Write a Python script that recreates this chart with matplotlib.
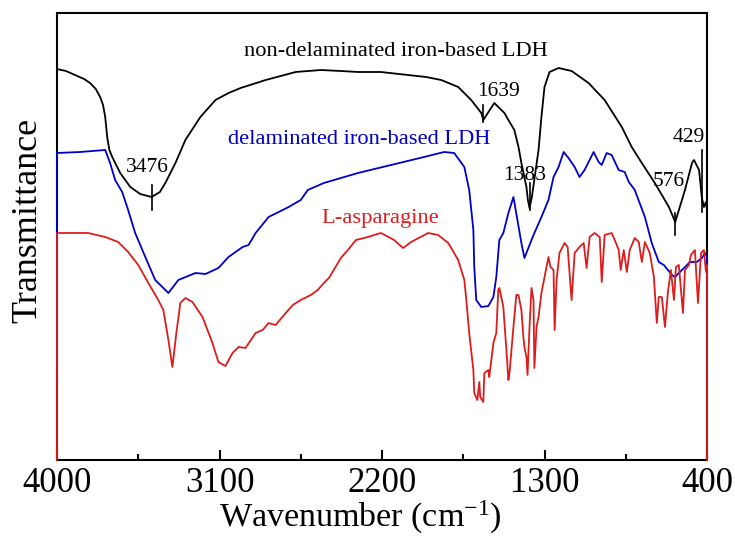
import matplotlib
matplotlib.use("Agg")
import matplotlib.pyplot as plt
from matplotlib.ticker import FixedLocator

plt.rcParams['font.family'] = ['Liberation Serif', 'DejaVu Serif']
plt.rcParams['mathtext.fontset'] = 'custom'
plt.rcParams['mathtext.rm'] = 'Liberation Serif'
plt.rcParams['mathtext.it'] = 'Liberation Serif:italic'

# spectra: (wavenumber cm-1, transmittance a.u.)
nondelam = [(4000, 167), (4000, 391), (3950, 389), (3900, 385), (3850, 381), (3817, 377), (3785, 371),
            (3761, 363), (3745, 355), (3733, 343), (3722, 323), (3710, 310),
            (3694, 303), (3650, 287), (3594, 273), (3539, 266), (3476, 263), (3430, 268), (3400, 277),
            (3344, 297), (3289, 320), (3206, 343), (3122, 360), (3050, 367), (2983, 372), (2844, 380),
            (2678, 388), (2539, 390), (2428, 389), (2333, 388), (2206, 388), (2056, 385), (1956, 383),
            (1872, 380), (1778, 373), (1706, 360), (1650, 347), (1639, 340), (1578, 357), (1522, 347),
            (1500, 340), (1467, 330), (1444, 313), (1428, 297), (1400, 273), (1392, 260), (1383, 252),
            (1370, 263), (1333, 310), (1317, 343), (1300, 373), (1272, 388), (1222, 392), (1150, 389),
            (1056, 377), (967, 360), (872, 333), (817, 313), (761, 297), (689, 277), (611, 253),
            (576, 238), (522, 270), (483, 297), (472, 300), (444, 290), (429, 263), (417, 253),
            (406, 258), (400, 250), (400, 167)]

delam = [(4000, 87), (4000, 307), (3872, 308), (3733, 310), (3706, 297), (3678, 280), (3639, 268),
         (3606, 250), (3567, 227), (3511, 203), (3456, 180), (3383, 167), (3328, 180), (3233, 187),
         (3178, 186), (3106, 192), (3050, 203), (2972, 213), (2939, 215), (2900, 227), (2828, 243),
         (2717, 253), (2650, 260), (2611, 270), (2522, 277), (2333, 287), (2150, 295), (1967, 303),
         (1856, 308), (1800, 307), (1744, 293), (1717, 270), (1694, 230), (1689, 193), (1678, 160),
         (1650, 153), (1611, 154), (1583, 163), (1567, 183), (1550, 220), (1528, 227), (1500, 247),
         (1472, 263), (1428, 217), (1411, 202), (1372, 220), (1356, 227), (1317, 243), (1278, 260),
         (1250, 283), (1222, 293), (1194, 308), (1167, 302), (1133, 293), (1106, 283), (1078, 290),
         (1028, 308), (1000, 298), (983, 295), (956, 307), (928, 305), (889, 290), (856, 288),
         (833, 278), (800, 270), (744, 243), (706, 217), (667, 198), (639, 195), (594, 185),
         (578, 183), (539, 190), (494, 198), (456, 198), (428, 202), (411, 207), (400, 203), (400, 87)]

asparagine = [(4000, 0), (4000, 227), (3828, 227), (3733, 223), (3661, 218), (3606, 208), (3550, 195),
              (3494, 177), (3439, 160), (3411, 150), (3383, 120), (3361, 93), (3339, 127), (3317, 157),
              (3289, 162), (3250, 158), (3194, 143), (3139, 117), (3106, 98), (3067, 94), (3028, 107),
              (2994, 113), (2956, 112), (2900, 127), (2861, 130), (2828, 137), (2789, 135), (2733, 147),
              (2694, 155), (2650, 160), (2594, 165), (2556, 170), (2517, 178), (2494, 182), (2467, 190),
              (2428, 202), (2389, 210), (2344, 220), (2278, 223), (2206, 227), (2133, 220), (2083, 212),
              (2039, 218), (1944, 227), (1889, 225), (1833, 217), (1778, 200), (1744, 180), (1733, 160),
              (1717, 127), (1694, 90), (1689, 67), (1672, 60), (1661, 78), (1656, 63), (1639, 58),
              (1633, 87), (1611, 90), (1606, 83), (1583, 117), (1567, 127), (1556, 170), (1550, 172),
              (1528, 153), (1511, 110), (1500, 80), (1494, 87), (1472, 133), (1456, 165), (1444, 165),
              (1428, 150), (1417, 123), (1411, 113), (1400, 103), (1394, 85), (1383, 133), (1372, 172),
              (1361, 160), (1356, 92), (1344, 133), (1333, 143), (1317, 167), (1278, 203), (1267, 193),
              (1250, 190), (1244, 130), (1233, 180), (1217, 207), (1189, 217), (1172, 213), (1150, 160),
              (1133, 207), (1106, 213), (1083, 217), (1067, 192), (1050, 223), (1022, 227), (994, 223),
              (983, 178), (967, 225), (928, 227), (911, 220), (889, 210), (878, 190), (861, 210),
              (844, 188), (828, 210), (800, 222), (778, 218), (761, 198), (744, 218), (717, 207),
              (694, 183), (678, 137), (667, 163), (650, 163), (633, 133), (617, 167), (600, 190),
              (583, 160), (572, 193), (556, 195), (533, 147), (522, 190), (500, 195), (489, 205),
              (467, 210), (450, 157), (433, 207), (417, 210), (406, 188), (400, 195), (400, 0)]

series_names = ['non-delaminated iron-based LDH', 'delaminated iron-based LDH', 'L-asparagine']
series_colors = ['black', '#0000c8', '#dd1c1c']

major_ticks = [4000, 3100, 2200, 1300, 400]
minor_ticks = [3550, 2650, 1750, 850]

# peak markers: (wavenumber, label, tick bottom, tick top, label x, label y)
peaks = [(3476, '3476', 250, 275, 3500, 293),
         (1639, '1639', 338, 355, 1556, 368),
         (1383, '1383', 250, 277, 1411, 285),
         (576, '576', 225, 247, 611, 278),
         (429, '429', 248, 310, 500, 322)]

fig = plt.figure(figsize=(7.35, 5.4), dpi=100)
ax = fig.add_axes([57 / 735, 80 / 540, 650 / 735, 447 / 540])

for data, col in zip([nondelam, delam, asparagine], series_colors):
    wn, t = zip(*data)
    ax.plot(wn, t, color=col, lw=1.3, zorder=3, clip_on=False)

ax.text(2122, 408, series_names[0], color='black', fontsize=16.2, ha='center', va='center')
ax.text(2328, 320, series_names[1], color=series_colors[1], fontsize=16.2, ha='center', va='center')
ax.text(2211, 242, series_names[2], color=series_colors[2], fontsize=16.2, ha='center', va='center')

for wn, lab, y0, y1, lx, ly in peaks:
    ax.plot([wn, wn], [y0, y1], color='black', lw=1.2, zorder=4)
    ax.text(lx, ly, lab, fontsize=15.5, ha='center', va='center')

ax.set_xlim(4000, 400)
ax.set_ylim(0, 447)
ax.xaxis.set_major_locator(FixedLocator(major_ticks))
ax.xaxis.set_minor_locator(FixedLocator(minor_ticks))
ax.set_xticklabels([str(v) for v in major_ticks])
ax.tick_params(axis='x', which='major', direction='in', length=7, width=1.5, labelsize=25, pad=5)
ax.tick_params(axis='x', which='minor', direction='in', length=4.5, width=1.5)
ax.set_yticks([])
for sp in ax.spines.values():
    sp.set_linewidth(1.5)

ax.set_xlabel(r'Wavenumber (cm$^{-1}$)', fontsize=24.5)
ax.xaxis.set_label_coords(0.466, -0.088)
ax.set_ylabel('Transmittance', fontsize=26)
ax.yaxis.set_label_coords(-0.02, 0.537)

fig.savefig('out.png', dpi=100)
